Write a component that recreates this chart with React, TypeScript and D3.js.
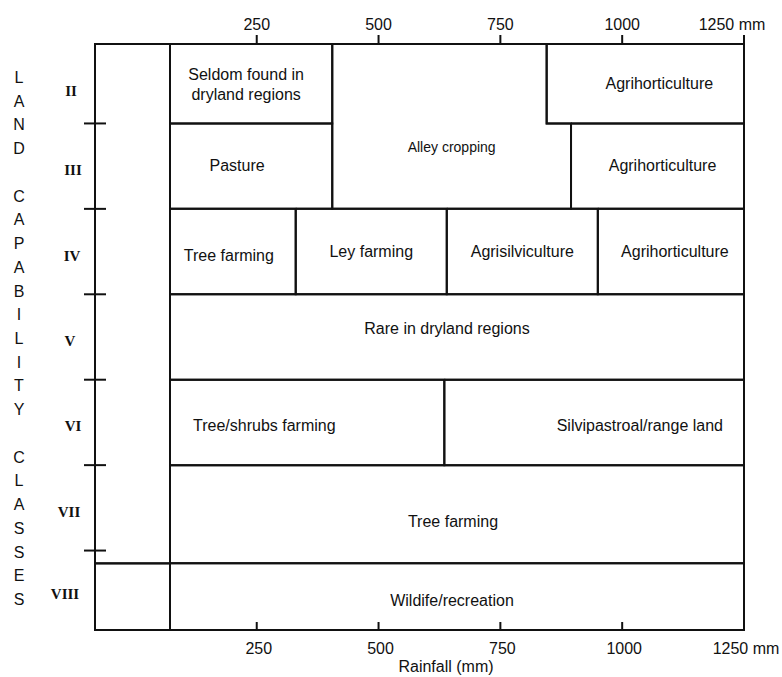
import React from "react";
import * as d3 from "d3";

// rainfall (mm): where the class cells start, where they end, and the ticks
const rainStart = 72;
const rainEnd = 1250;
const rainTicks = [250, 500, 750, 1000, 1250];

// land capability classes; class II sits between position 1 and 2, III between 2 and 3 ...
const classNames = ["II", "III", "IV", "V", "VI", "VII", "VIII"];
const classTop = 1.07;
const classBottom = 7.93;
const classTicks = [2, 3, 4, 5, 6, 7];
const wildlifeTop = 7.15;

const axisTitle = "LAND CAPABILITY CLASSES";

// land use cells (rainfall range x class range)
const cells = [
  { name: "Seldom found in|dryland regions", from: 72, to: 405, top: 1.07, bottom: 2 },
  { name: "Alley cropping", from: 405, to: 845, top: 1.07, bottom: 3, stepAt: 2, toBelow: 895 },
  { name: "Agrihorticulture", from: 845, to: 1250, top: 1.07, bottom: 2 },
  { name: "Pasture", from: 72, to: 405, top: 2, bottom: 3 },
  { name: "Agrihorticulture", from: 895, to: 1250, top: 2, bottom: 3 },
  { name: "Tree farming", from: 72, to: 330, top: 3, bottom: 4 },
  { name: "Ley farming", from: 330, to: 640, top: 3, bottom: 4 },
  { name: "Agrisilviculture", from: 640, to: 950, top: 3, bottom: 4 },
  { name: "Agrihorticulture", from: 950, to: 1250, top: 3, bottom: 4 },
  { name: "Rare in dryland regions", from: 72, to: 1250, top: 4, bottom: 5 },
  { name: "Tree/shrubs farming", from: 72, to: 635, top: 5, bottom: 6 },
  { name: "Silvipastroal/range land", from: 635, to: 1250, top: 5, bottom: 6 },
  { name: "Tree farming", from: 72, to: 1250, top: 6, bottom: 7.15 },
  { name: "Wildife/recreation", from: 72, to: 1250, top: 7.15, bottom: 7.93 },
];

// label placement tweaks, same order as cells
const labelLayout = [
  { dx: -5, dy: 1, anchor: "middle", size: 16 },
  { dx: 0, dy: 21, anchor: "middle", size: 14 },
  { dx: 14, dy: 0, anchor: "middle", size: 16 },
  { dx: -14, dy: -1, anchor: "middle", size: 16 },
  { dx: 5, dy: -1, anchor: "middle", size: 16 },
  { dx: -4, dy: 4, anchor: "middle", size: 16 },
  { dx: 0, dy: 0, anchor: "middle", size: 16 },
  { dx: 0, dy: 0, anchor: "middle", size: 16 },
  { dx: 4, dy: 0, anchor: "middle", size: 16 },
  { dx: -10, dy: -9, anchor: "middle", size: 16 },
  { dx: 23, dy: 3, anchor: "start", size: 16 },
  { dx: -21, dy: 3, anchor: "end", size: 16 },
  { dx: -4, dy: 7, anchor: "middle", size: 16 },
  { dx: -5, dy: 4, anchor: "middle", size: 16 },
];

// small horizontal shifts for the roman numerals
const classDx = [0, 2, 1, -1, 2, -2, -6];

const W = 782;
const H = 677;
const frameLeft = 95;
const sans = "'Liberation Sans', Arial, Helvetica, sans-serif";
const serif = "'Liberation Serif', 'Times New Roman', serif";

export default function App() {
  const x = d3.scaleLinear().domain([rainStart, rainEnd]).range([170, 744]);
  const y = d3.scaleLinear().domain([classTop, classBottom]).range([44, 630]);
  const letterY = d3.scaleLinear().domain([0, axisTitle.length - 1]).range([83, 605]);
  const line = d3.line<[number, number]>().x((d) => x(d[0])).y((d) => y(d[1]));

  const outline = (c: any): [number, number][] =>
    c.stepAt
      ? [
          [c.from, c.top],
          [c.to, c.top],
          [c.to, c.stepAt],
          [c.toBelow, c.stepAt],
          [c.toBelow, c.bottom],
          [c.from, c.bottom],
          [c.from, c.top],
        ]
      : [
          [c.from, c.top],
          [c.to, c.top],
          [c.to, c.bottom],
          [c.from, c.bottom],
          [c.from, c.top],
        ];

  const stroke = { stroke: "#111", strokeWidth: 2, fill: "none" };

  return (
    <svg
      width={W}
      height={H}
      style={{ position: "absolute", left: 0, top: 0, background: "#fff" }}
    >
      <rect width={W} height={H} fill="#fff" />

      {/* vertical axis title, one letter per line */}
      {axisTitle.split("").map((ch, i) =>
        ch === " " ? null : (
          <text key={"t" + i} x={19} y={letterY(i)} textAnchor="middle" fontFamily={sans} fontSize={16} fill="#111">
            {ch}
          </text>
        )
      )}

      {/* class labels */}
      {classNames.map((c, i) => {
        const lo = i === 0 ? classTop : classTicks[i - 1];
        const hi = i === classNames.length - 1 ? classBottom : classTicks[i];
        return (
          <text
            key={c}
            x={71 + classDx[i]}
            y={(y(lo) + y(hi)) / 2}
            dy={i === 0 ? "0.85em" : "0.6em"}
            textAnchor="middle"
            fontFamily={serif}
            fontWeight="bold"
            fontSize={15}
            fill="#111"
          >
            {c}
          </text>
        );
      })}

      {/* left column */}
      <rect x={frameLeft} y={y(classTop)} width={x(rainStart) - frameLeft} height={y(wildlifeTop) - y(classTop)} {...stroke} />
      <rect x={frameLeft} y={y(wildlifeTop)} width={x(rainStart) - frameLeft} height={y(classBottom) - y(wildlifeTop)} {...stroke} />

      {/* left axis ticks */}
      {classTicks.map((t) => (
        <line key={"ct" + t} x1={frameLeft - 11} x2={frameLeft + 11} y1={y(t)} y2={y(t)} {...stroke} />
      ))}

      {/* cells */}
      {cells.map((c, i) => (
        <path key={"c" + i} d={line(outline(c)) || ""} {...stroke} />
      ))}

      {/* cell labels */}
      {cells.map((c, i) => {
        const L = labelLayout[i];
        const right = c.toBelow ?? c.to;
        const cx =
          L.anchor === "start" ? x(c.from) : L.anchor === "end" ? x(right) : (x(c.from) + x(right)) / 2;
        const cy = (y(c.top) + y(c.bottom)) / 2;
        const lines = c.name.split("|");
        return (
          <text
            key={"l" + i}
            y={cy + L.dy - ((lines.length - 1) * 20) / 2}
            textAnchor={L.anchor}
            fontFamily={sans}
            fontSize={L.size}
            fill="#111"
          >
            {lines.map((s, j) => (
              <tspan key={j} x={cx + L.dx} dy={j === 0 ? "0.35em" : 20}>
                {s}
              </tspan>
            ))}
          </text>
        );
      })}

      {/* top axis */}
      {rainTicks.map((t) => (
        <g key={"top" + t}>
          <line x1={x(t)} x2={x(t)} y1={y(classTop) - 9} y2={y(classTop)} {...stroke} />
          <text
            x={x(t) + (t === rainEnd ? -12 : 0)}
            y={30}
            textAnchor="middle"
            fontFamily={sans}
            fontSize={16}
            fill="#111"
          >
            {t === rainEnd ? t + " mm" : t}
          </text>
        </g>
      ))}

      {/* bottom axis */}
      {rainTicks.map((t) => (
        <g key={"bot" + t}>
          <line x1={x(t)} x2={x(t)} y1={y(classBottom) - 8} y2={y(classBottom)} {...stroke} />
          <text x={x(t) + 2} y={654} textAnchor="middle" fontFamily={sans} fontSize={16} fill="#111">
            {t === rainEnd ? t + " mm" : t}
          </text>
        </g>
      ))}
      <text x={446} y={672} textAnchor="middle" fontFamily={sans} fontSize={16} fill="#111">
        Rainfall (mm)
      </text>
    </svg>
  );
}
